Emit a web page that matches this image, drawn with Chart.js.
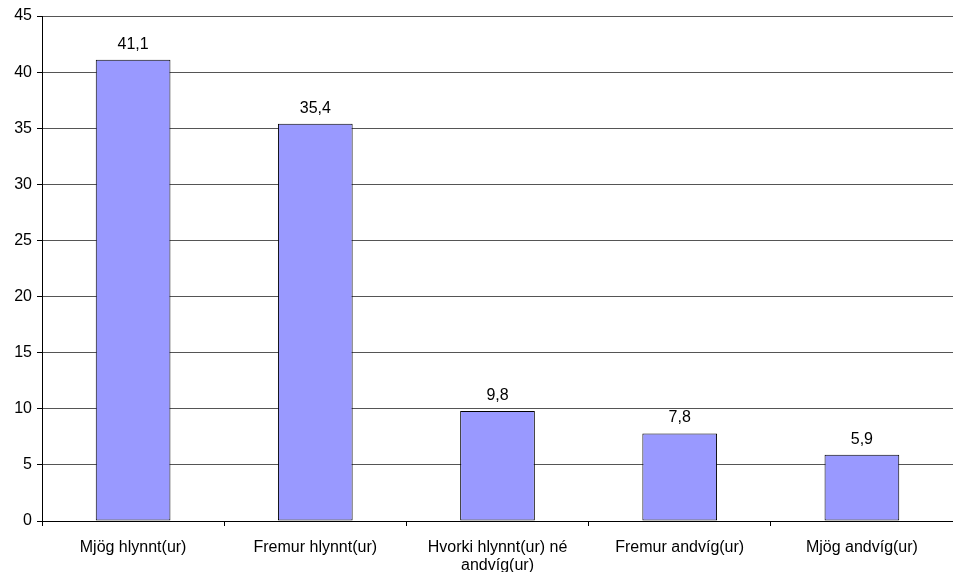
<!DOCTYPE html>
<html>
<head>
<meta charset="utf-8">
<script src="https://cdn.jsdelivr.net/npm/chart.js@4"></script>
<style>
  html, body { margin: 0; padding: 0; background: #fff; }
  #wrap { width: 953px; height: 572px; }
</style>
</head>
<body>
<div id="wrap"><canvas id="chart"></canvas></div>
<script>
"use strict";

// Data
var categories = [
    'Mjög hlynnt(ur)',
    'Fremur hlynnt(ur)',
    ['Hvorki hlynnt(ur) né', 'andvíg(ur)'],
    'Fremur andvíg(ur)',
    'Mjög andvíg(ur)'
];
var values = [41.1, 35.4, 9.8, 7.8, 5.9];
var valueLabels = ['41,1', '35,4', '9,8', '7,8', '5,9'];

Chart.defaults.font.family = '"Liberation Sans", Arial, sans-serif';
Chart.defaults.font.size = 16;
Chart.defaults.color = '#000';

// Value labels above each bar
var barLabels = {
    id: 'barLabels',
    afterDatasetsDraw: function (chart) {
        var ctx = chart.ctx;
        var meta = chart.getDatasetMeta(0);
        ctx.save();
        ctx.font = '16px "Liberation Sans", Arial, sans-serif';
        ctx.fillStyle = '#000';
        ctx.textAlign = 'center';
        ctx.textBaseline = 'alphabetic';
        meta.data.forEach(function (bar, i) {
            ctx.fillText(valueLabels[i], bar.x, bar.y - 11);
        });
        ctx.restore();
    }
};

var config = {
    type: 'bar',
    data: {
        labels: categories,
        datasets: [{
            data: values,
            backgroundColor: '#9999FF',
            borderColor: '#000',
            borderWidth: 1,
            borderSkipped: false,
            barPercentage: 0.41,
            categoryPercentage: 1.0
        }]
    },
    options: {
        responsive: true,
        maintainAspectRatio: false,
        animation: false,
        layout: {
            padding: { top: 16, right: 0, left: 0, bottom: 0 }
        },
        scales: {
            x: {
                offset: true,
                grid: {
                    offset: true,
                    drawOnChartArea: false,
                    drawTicks: true,
                    tickLength: 5,
                    color: '#000'
                },
                border: { display: true, color: '#000' },
                ticks: {
                    padding: 12,
                    maxRotation: 0,
                    autoSkip: false,
                    font: { size: 16, lineHeight: 1.15 }
                },
                afterFit: function (scale) { scale.height = 51; }
            },
            y: {
                min: 0,
                max: 45,
                ticks: {
                    stepSize: 5,
                    padding: 5
                },
                grid: {
                    color: '#555',
                    tickLength: 5,
                    tickColor: '#000'
                },
                border: { display: true, color: '#000' },
                afterFit: function (scale) { scale.width = 42; }
            }
        },
        plugins: {
            legend: { display: false },
            tooltip: { enabled: false }
        }
    },
    plugins: [barLabels]
};

new Chart(document.getElementById('chart').getContext('2d'), config);
</script>
</body>
</html>
